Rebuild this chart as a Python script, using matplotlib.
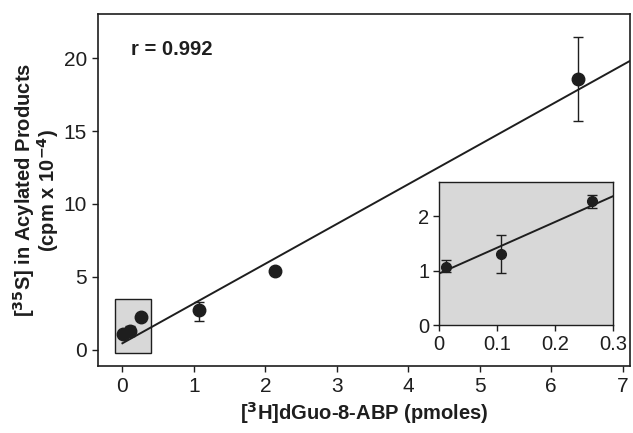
import matplotlib
matplotlib.use("Agg")
import matplotlib.pyplot as plt
from matplotlib.patches import Rectangle

plt.rcParams['font.family'] = ['Liberation Sans', 'DejaVu Sans']

# data
x_pmol = [0.011, 0.106, 0.264, 1.07, 2.13, 6.38]
y_cpm = [1.07, 1.31, 2.28, 2.7, 5.43, 18.56]
y_err_lo = [0.10, 0.36, 0.13, 0.7, 0.0, 2.9]
y_err_hi = [0.13, 0.34, 0.11, 0.6, 0.0, 2.9]
fit_main_x = [0.0, 7.1]
fit_main_y = [0.45, 19.8]
fit_inset_x = [0.0, 0.3]
fit_inset_y = [0.95, 2.37]
box_x = [-0.1, 0.4]
box_y = [-0.2, 3.5]
main_xticks = [0, 1, 2, 3, 4, 5, 6, 7]
main_yticks = [0, 5, 10, 15, 20]
inset_xticks = [0, 0.1, 0.2, 0.3]
inset_xticklabels = ['0', '0.1', '0.2', '0.3']
inset_yticks = [0, 1, 2]

ink = '#1e1e1e'
fig = plt.figure(figsize=(6.33, 4.33), dpi=100)
ax = fig.add_axes([0.155, 0.155, 0.840, 0.812])

ax.add_patch(Rectangle((box_x[0], box_y[0]), box_x[1] - box_x[0], box_y[1] - box_y[0],
                       facecolor='#d8d8d8', edgecolor=ink, lw=1.0, zorder=1))
ax.plot(fit_main_x, fit_main_y, color=ink, lw=1.4, zorder=2)
ax.errorbar(x_pmol, y_cpm, yerr=[y_err_lo, y_err_hi], fmt='o', color=ink, ms=9,
            capsize=3.5, elinewidth=1.0, capthick=1.0, zorder=3)
ax.set_xlim(-0.34, 7.1)
ax.set_ylim(-1.1, 23.0)
ax.set_xticks(main_xticks)
ax.set_yticks(main_yticks)
ax.tick_params(direction='out', length=4.5, width=1.0, labelsize=15, colors=ink, pad=3.5)
for s in ax.spines.values():
    s.set_linewidth(1.2)
    s.set_color(ink)
ax.text(0.12, 20.6, 'r = 0.992', fontsize=14.5, fontweight='bold', color=ink, va='center')
ax.set_xlabel('[$\\mathbf{^{3}}$H]dGuo-8-ABP (pmoles)', fontsize=14.5, fontweight='bold',
              color=ink, labelpad=3)
ax.set_ylabel('[$\\mathbf{^{35}}$S] in Acylated Products\n(cpm x 10$\\mathbf{^{-4}}$)',
              fontsize=14.5, fontweight='bold', color=ink, labelpad=2, linespacing=0.9)

ins = fig.add_axes([0.694, 0.249, 0.275, 0.331])
ins.set_facecolor('#d8d8d8')
ins.plot(fit_inset_x, fit_inset_y, color=ink, lw=1.4, zorder=2)
ins.errorbar(x_pmol[:3], y_cpm[:3], yerr=[y_err_lo[:3], y_err_hi[:3]], fmt='o', color=ink,
             ms=7, capsize=3.5, elinewidth=1.0, capthick=1.0, zorder=3)
ins.set_xlim(0, 0.3)
ins.set_ylim(0, 2.63)
ins.set_xticks(inset_xticks)
ins.set_xticklabels(inset_xticklabels)
ins.set_yticks(inset_yticks)
ins.tick_params(direction='out', length=4, width=1.0, labelsize=14.5, colors=ink, pad=3)
for s in ins.spines.values():
    s.set_linewidth(1.0)
    s.set_color(ink)

fig.savefig('out.png', dpi=100)
